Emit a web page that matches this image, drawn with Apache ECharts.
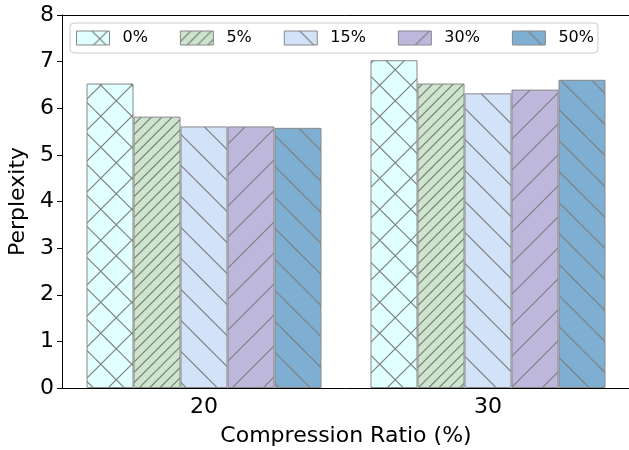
<!DOCTYPE html>
<html>
<head>
<meta charset="utf-8">
<script src="https://cdn.jsdelivr.net/npm/echarts@6/dist/echarts.min.js"></script>
<style>html,body{margin:0;padding:0;background:#fff}#c{width:629px;height:450px}</style>
</head>
<body>
<div id="c"></div>
<script>
// Data
var categories = ['20', '30'];
var seriesNames = ['0%', '5%', '15%', '30%', '50%'];
var ppl0 = [6.53, 7.03];
var ppl5 = [5.82, 6.53];
var ppl15 = [5.61, 6.32];
var ppl30 = [5.61, 6.40];
var ppl50 = [5.58, 6.61];
var yTicks = [0, 1, 2, 3, 4, 5, 6, 7, 8];

var seriesValues = [ppl0, ppl5, ppl15, ppl30, ppl50];
var fills = ['#e0ffff', '#cce5cc', '#d2e2f8', '#bdb7dc', '#7eafd3'];
var hatches = ['x', '///', '\\', '/', '\\'];

function makePattern(bg, hatch) {
  var s = 31;
  var cv = document.createElement('canvas');
  cv.width = s; cv.height = s;
  var ctx = cv.getContext('2d');
  ctx.fillStyle = bg;
  ctx.fillRect(0, 0, s, s);
  ctx.strokeStyle = '#7f7f7f';
  ctx.lineWidth = 1.2;
  var nf = (hatch.match(/\//g) || []).length + (hatch.match(/x/g) || []).length;
  var nb = (hatch.match(/\\/g) || []).length + (hatch.match(/x/g) || []).length;
  var m, k, c;
  ctx.beginPath();
  for (k = 0; k < nf; k++) {
    for (m = -1; m <= 2; m++) {
      c = k * s / nf + m * s;
      ctx.moveTo(c + 2, -2);
      ctx.lineTo(c - s - 2, s + 2);
    }
  }
  for (k = 0; k < nb; k++) {
    for (m = -1; m <= 2; m++) {
      c = k * s / nb + m * s + s / 2;
      ctx.moveTo(c - 2, -2);
      ctx.lineTo(c + s + 2, s + 2);
    }
  }
  ctx.stroke();
  return { image: cv, repeat: 'repeat' };
}

var font = 'DejaVu Sans';
var series = seriesNames.map(function (name, i) {
  return {
    name: name,
    type: 'bar',
    xAxisIndex: 0,
    data: seriesValues[i],
    barWidth: 47,
    barGap: '0%',
    itemStyle: { color: makePattern(fills[i], hatches[i]), borderColor: '#888888', borderWidth: 1 },
    emphasis: { disabled: true }
  };
});

var chart = echarts.init(document.getElementById('c'), null, { renderer: 'canvas' });
chart.setOption({
  animation: false,
  backgroundColor: '#ffffff',
  grid: { left: 62, right: -1, top: 15, bottom: 62, outerBoundsMode: 'none', containLabel: false },
  legend: {
    data: seriesNames,
    left: 70, top: 23,
    orient: 'horizontal',
    icon: 'rect',
    itemWidth: 33, itemHeight: 14, itemGap: 32,
    padding: [7, 4, 7, 6],
    borderColor: '#cccccc', borderWidth: 1, borderRadius: 4,
    backgroundColor: 'rgba(255,255,255,0.8)',
    itemStyle: { borderWidth: 1, borderColor: '#888888' },
    textStyle: { fontFamily: font, fontSize: 16, color: '#000', padding: [0, 0, 0, 8] },
    selectedMode: false
  },
  xAxis: [{
    type: 'category',
    data: categories,
    position: 'bottom',
    name: 'Compression Ratio (%)',
    nameLocation: 'middle',
    nameGap: 37,
    nameTextStyle: { fontFamily: font, fontSize: 22, color: '#000' },
    axisLine: { lineStyle: { color: '#000', width: 1 } },
    axisTick: { alignWithLabel: true, length: 5, lineStyle: { color: '#000' } },
    axisLabel: { fontFamily: font, fontSize: 22, color: '#000', margin: 8 },
    splitLine: { show: false }
  }, {
    type: 'category',
    data: categories,
    position: 'top',
    axisLine: { lineStyle: { color: '#000', width: 1 } },
    axisTick: { show: false },
    axisLabel: { show: false },
    splitLine: { show: false }
  }],
  yAxis: {
    type: 'value',
    min: yTicks[0], max: yTicks[yTicks.length - 1], interval: 1,
    name: 'Perplexity',
    nameLocation: 'middle',
    nameGap: 32,
    nameTextStyle: { fontFamily: font, fontSize: 22, color: '#000' },
    axisLine: { show: true, lineStyle: { color: '#000', width: 1 } },
    axisTick: { show: true, length: 5, lineStyle: { color: '#000' } },
    axisLabel: { fontFamily: font, fontSize: 22, color: '#000', margin: 8 },
    splitLine: { show: false }
  },
  series: series
});
</script>
</body>
</html>
